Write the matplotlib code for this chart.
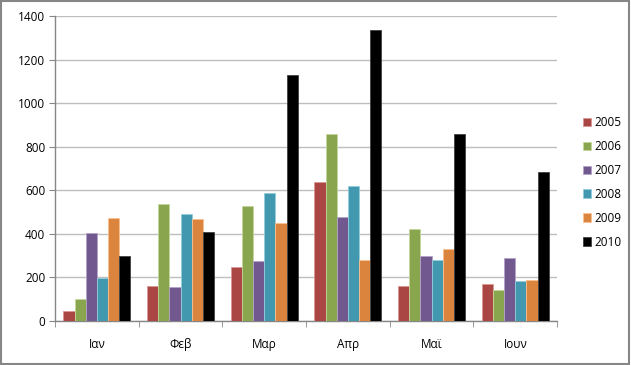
import matplotlib
matplotlib.use("Agg")
import matplotlib.pyplot as plt
import numpy as np
from matplotlib.patches import Rectangle

months = ["Ιαν", "Φεβ", "Μαρ", "Απρ", "Μαϊ", "Ιουν"]
years = ["2005", "2006", "2007", "2008", "2009", "2010"]
v2005 = [45, 161, 248, 639, 161, 170]
v2006 = [100, 538, 529, 860, 422, 142]
v2007 = [402, 157, 274, 477, 298, 289]
v2008 = [196, 492, 586, 622, 281, 184]
v2009 = [471, 468, 448, 281, 329, 187]
v2010 = [300, 410, 1129, 1334, 860, 682]
series = [v2005, v2006, v2007, v2008, v2009, v2010]
colors = ["#AA4643", "#89A54E", "#71588F", "#4198AF", "#DB843D", "#000000"]
edges = ["#D99795", "#C3D69B", "#B3A2C7", "#93CDDD", "#FAC090", "#404040"]

plt.rcParams['font.family'] = ['Open Sans', 'DejaVu Sans']

fig = plt.figure(figsize=(6.31, 3.65), dpi=100)
ax = fig.add_axes([0.0872, 0.1205, 0.7958, 0.8355])

x = np.arange(len(months))
w = 1 / 7.5
for i, (vals, c, e) in enumerate(zip(series, colors, edges)):
    ax.bar(x + (i - 2.5) * w, vals, width=w, color=c, edgecolor=e,
           linewidth=0.6, label=years[i], zorder=3)

ax.set_xlim(-0.5, len(months) - 0.5)
ax.set_ylim(0, 1400)
ax.set_yticks(range(0, 1401, 200))
ax.set_xticks(x)
ax.set_xticklabels(months)
ax.set_xticks(np.arange(-0.5, len(months), 1), minor=True)
ax.tick_params(axis='x', which='major', length=0, pad=12, labelsize=8.5)
ax.tick_params(axis='x', which='minor', length=4, color='#868686', direction='out')
ax.tick_params(axis='y', length=4, color='#868686', direction='out', labelsize=8.5, pad=3)
ax.grid(axis='y', color='#BEBEBE', linewidth=1, zorder=0)
for s in ['top', 'right']:
    ax.spines[s].set_visible(False)
for s in ['left', 'bottom']:
    ax.spines[s].set_color('#868686')
    ax.spines[s].set_linewidth(1)

leg = ax.legend(loc='center left', bbox_to_anchor=(1.03, 0.455), frameon=False,
                fontsize=8.5, handlelength=0.7, handleheight=0.7,
                handletextpad=0.3, labelspacing=0.93)
for h in leg.legend_handles:
    h.set_linewidth(0.6)

fig.patches.append(Rectangle((0.002, 0.003), 0.995, 0.994, transform=fig.transFigure,
                             fill=False, edgecolor='#868686', linewidth=1.5))

fig.savefig("out.png", dpi=100)
